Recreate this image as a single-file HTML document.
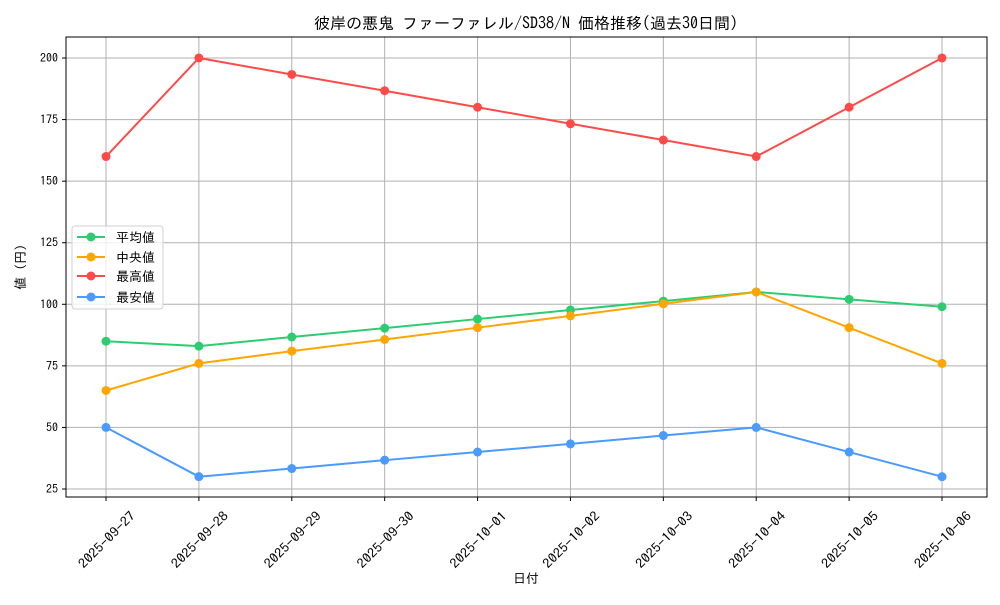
<!DOCTYPE html>
<html><head><meta charset="utf-8"><style>
body{margin:0;background:#fff}
svg text{font-family:"IPAGothic","Liberation Sans","Noto Sans CJK JP",sans-serif;fill:#000}
</style></head><body>
<svg id="s" width="1000" height="600" xmlns="http://www.w3.org/2000/svg">
<rect width="1000" height="600" fill="#fff"/>
<g id="grid"></g>
<rect x="66" y="37" width="921" height="460" fill="none" stroke="#000" stroke-width="1"/>
<g id="series"></g>
<g id="ticks" font-size="12"></g>
<text x="526" y="29" font-size="16" text-anchor="middle">彼岸の悪鬼 ファーファレル/SD38/N 価格推移(過去30日間)</text>
<text x="526" y="583" font-size="13" text-anchor="middle">日付</text>
<text transform="translate(25,267) rotate(-90)" font-size="13" text-anchor="middle">値 (円)</text>
<g>
<rect x="72" y="226" width="91" height="83" rx="3" fill="#fff" fill-opacity="0.8" stroke="#d0d0d0"/>
<line x1="77" y1="237" x2="105" y2="237" stroke="#2ecc71" stroke-width="2"/><circle cx="91" cy="237" r="4.5" fill="#2ecc71"/><text x="116" y="242" font-size="13">平均値</text>
<line x1="77" y1="257" x2="105" y2="257" stroke="#ffa500" stroke-width="2"/><circle cx="91" cy="257" r="4.5" fill="#ffa500"/><text x="116" y="262" font-size="13">中央値</text>
<line x1="77" y1="276" x2="105" y2="276" stroke="#ff4a4a" stroke-width="2"/><circle cx="91" cy="276" r="4.5" fill="#ff4a4a"/><text x="116" y="281" font-size="13">最高値</text>
<line x1="77" y1="297" x2="105" y2="297" stroke="#4a9aff" stroke-width="2"/><circle cx="91" cy="297" r="4.5" fill="#4a9aff"/><text x="116" y="302" font-size="13">最安値</text>
</g>
</svg>
<script>
var NS="http://www.w3.org/2000/svg";
function el(p,t,a,txt){var e=document.createElementNS(NS,t);for(var k in a)e.setAttribute(k,a[k]);if(txt)e.textContent=txt;document.getElementById(p).appendChild(e);return e;}
function X(i){return 106+i*92.89;}
function Y(v){return 489-(v-25)*2.4629;}
var dates=["2025-09-27","2025-09-28","2025-09-29","2025-09-30","2025-10-01","2025-10-02","2025-10-03","2025-10-04","2025-10-05","2025-10-06"];
for(var i=0;i<10;i++){var x=X(i);
el("grid","line",{x1:x,y1:37,x2:x,y2:497,stroke:"#b0b0b0","stroke-width":1});
el("ticks","line",{x1:x,y1:497,x2:x,y2:501,stroke:"#000"});
el("ticks","text",{transform:"translate("+(x+4)+",543) rotate(-45)","text-anchor":"middle","font-size":13,textLength:74,lengthAdjust:"spacingAndGlyphs"},dates[i]);}
for(var v=25;v<=200;v+=25){var y=Y(v);
el("grid","line",{x1:66,y1:y,x2:987,y2:y,stroke:"#b0b0b0","stroke-width":1});
el("ticks","line",{x1:62,y1:y,x2:66,y2:y,stroke:"#000"});
el("ticks","text",{x:58,y:y+4,"text-anchor":"end","font-size":12},""+v);}
var S=[
["#2ecc71",[85,83,86.7,90.3,94,97.7,101.3,105,102,99]],
["#ffa500",[65,76,81,85.7,90.5,95.3,100.2,105,90.5,76]],
["#ff4a4a",[160,200,193.3,186.7,180,173.3,166.7,160,180,200]],
["#4a9aff",[50,30,33.3,36.7,40,43.3,46.7,50,40,30]]];
S.forEach(function(s){var pts=s[1].map(function(v,i){return X(i)+","+Y(v);}).join(" ");
el("series","polyline",{points:pts,fill:"none",stroke:s[0],"stroke-width":2});
s[1].forEach(function(v,i){el("series","circle",{cx:X(i),cy:Y(v),r:4.5,fill:s[0]});});});
</script>
</body></html>
